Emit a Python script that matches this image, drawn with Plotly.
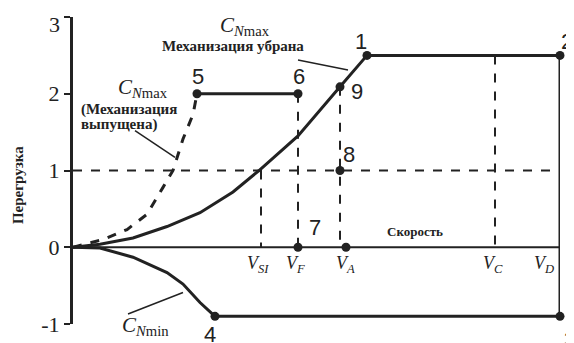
import plotly.graph_objects as go

# скорость в условных единицах (0 = ось перегрузки), перегрузка n
v_clean = [0, 27, 60, 94, 127, 160, 186, 225, 267, 294]
n_clean = [0, 0.04, 0.12, 0.27, 0.45, 0.72, 1.0, 1.45, 2.09, 2.5]

v_flap = [0, 30, 54, 74, 90, 100, 110, 120, 124]
n_flap = [0, 0.1, 0.23, 0.43, 0.78, 1.0, 1.41, 1.73, 2.0]

v_min = [0, 27, 60, 94, 110, 127, 142]
n_min = [0, -0.01, -0.13, -0.33, -0.48, -0.72, -0.9]

v_sI, v_F, v_A, v_C, v_D = 188, 225, 267, 422, 487
v_A_dot = 273
n_max, n_flapmax, n_min_lim = 2.5, 2.0, -0.9
n_9 = 2.09

pt_names = ["1", "2", "3", "4", "5", "6", "7", "8", "9"]
pt_v = [294, v_D, v_D, 142, 124, v_F, v_F, v_A, v_A]
pt_n = [n_max, n_max, n_min_lim, n_min_lim, n_flapmax, n_flapmax, 0, 1, n_9]
lbl_v = [288, 494, 497, 137, 125, 226, 242, 276, 284]
lbl_n = [2.68, 2.68, -1.2, -1.14, 2.23, 2.23, 0.26, 1.21, 2.03]

speed_labels = ["<i>V<sub>SI</sub></i>", "<i>V<sub>F</sub></i>", "<i>V<sub>A</sub></i>",
                "<i>V<sub>C</sub></i>", "<i>V<sub>D</sub></i>"]
speed_lbl_v = [185, 222, 272, 420, 471]

tick_vals = [-1, 0, 1, 2, 3]
tick_text = ["-1", "0", "1", "2", ""]   # "3" подписан отдельно, чуть ниже засечки

INK = "#222222"
SERIF = "Liberation Serif, Times New Roman, serif"
X0, X1 = 0, v_D
Y0, Y1 = -1, 3


def px(v):
    return (v - X0) / (X1 - X0)


def py(n):
    # перевод перегрузки в долю высоты области построения (для подписей вне диапазона)
    return (n - Y0) / (Y1 - Y0)


fig = go.Figure()


def line(x, y, width=3, dash="solid"):
    fig.add_trace(go.Scatter(x=x, y=y, mode="lines", cliponaxis=False,
                             line=dict(color=INK, width=width, dash=dash),
                             hoverinfo="skip", showlegend=False))


def label(x, y, text, size, family=SERIF, xanchor="center", **kw):
    fig.add_annotation(x=px(x), xref="paper", y=py(y), yref="paper", text=text, showarrow=False,
                       xanchor=xanchor, yanchor="middle",
                       font=dict(family=family, size=size, color=INK), **kw)


# оси/основные линии
line([0, v_D], [0, 0], width=2)
line([0, v_D], [1, 1], width=2, dash="dash")
line(v_clean, n_clean)
line(v_flap, n_flap, dash="dash")
line(v_min, n_min)
line([124, v_F], [n_flapmax, n_flapmax])
line([294, v_D, v_D, 142], [n_max, n_max, n_min_lim, n_min_lim])

# вертикальные пунктиры
line([v_sI, v_sI], [1, 0], width=2, dash="dash")
line([v_F, v_F], [n_flapmax, 0], width=2, dash="dash")
line([v_A, v_A], [n_9, 0], width=2, dash="dash")
line([v_C, v_C], [n_max, 0], width=2, dash="dash")

fig.add_trace(go.Scatter(x=pt_v + [v_A_dot], y=pt_n + [0], mode="markers", cliponaxis=False,
                         marker=dict(color=INK, size=9), hoverinfo="skip", showlegend=False))

for name, x, y in zip(pt_names, lbl_v, lbl_n):
    label(x, y, name, 22, family="Liberation Sans")

for t, x in zip(speed_labels, speed_lbl_v):
    label(x, -0.22, t, 18)

label(342, 0.2, "<b>Скорость</b>", 13)

# подписи кривых
label(70, 2.07, "<i>C<sub>N</sub></i><sub>max</sub>", 21)
label(6, 1.8, "<b>(Механизация</b>", 15, xanchor="left")
label(6, 1.6, "<b>выпущена)</b>", 15, xanchor="left")
label(172, 2.88, "<i>C<sub>N</sub></i><sub>max</sub>", 21)
label(160, 2.62, "<b>Механизация убрана</b>", 15)
label(72, -1.02, "<i>C<sub>N</sub></i><sub>min</sub>", 21)
label(-11, 2.9, "3", 22, xanchor="right")

for x0, y0, x1, y1 in [(62, 1.52, 102, 1.17), (225, 2.44, 275, 2.31), (55, -0.87, 110, -0.59)]:
    fig.add_shape(type="line", x0=x0, y0=y0, x1=x1, y1=y1, line=dict(color=INK, width=1.5))

fig.add_annotation(xref="paper", x=-0.113, y=py(0.81), yref="paper", text="<b>Перегрузка</b>",
                   showarrow=False, textangle=-90, xanchor="center", yanchor="middle",
                   font=dict(family=SERIF, size=15, color=INK))

fig.update_xaxes(range=[X0, X1], visible=False, automargin=False)
fig.update_yaxes(range=[Y0, Y1], tickvals=tick_vals, ticktext=tick_text,
                 showline=True, linecolor=INK, linewidth=3, ticks="outside", ticklen=6,
                 tickwidth=2, tickcolor=INK, showgrid=False, zeroline=False, automargin=False,
                 ticklabeloverflow="allow",
                 tickfont=dict(family=SERIF, size=22, color=INK))

# страница добавляет отступ 8px, поэтому поля сдвинуты
fig.update_layout(width=574, height=343, margin=dict(l=65, r=22, t=9, b=27),
                  plot_bgcolor="white", paper_bgcolor="white")

fig.write_html("out.html")
